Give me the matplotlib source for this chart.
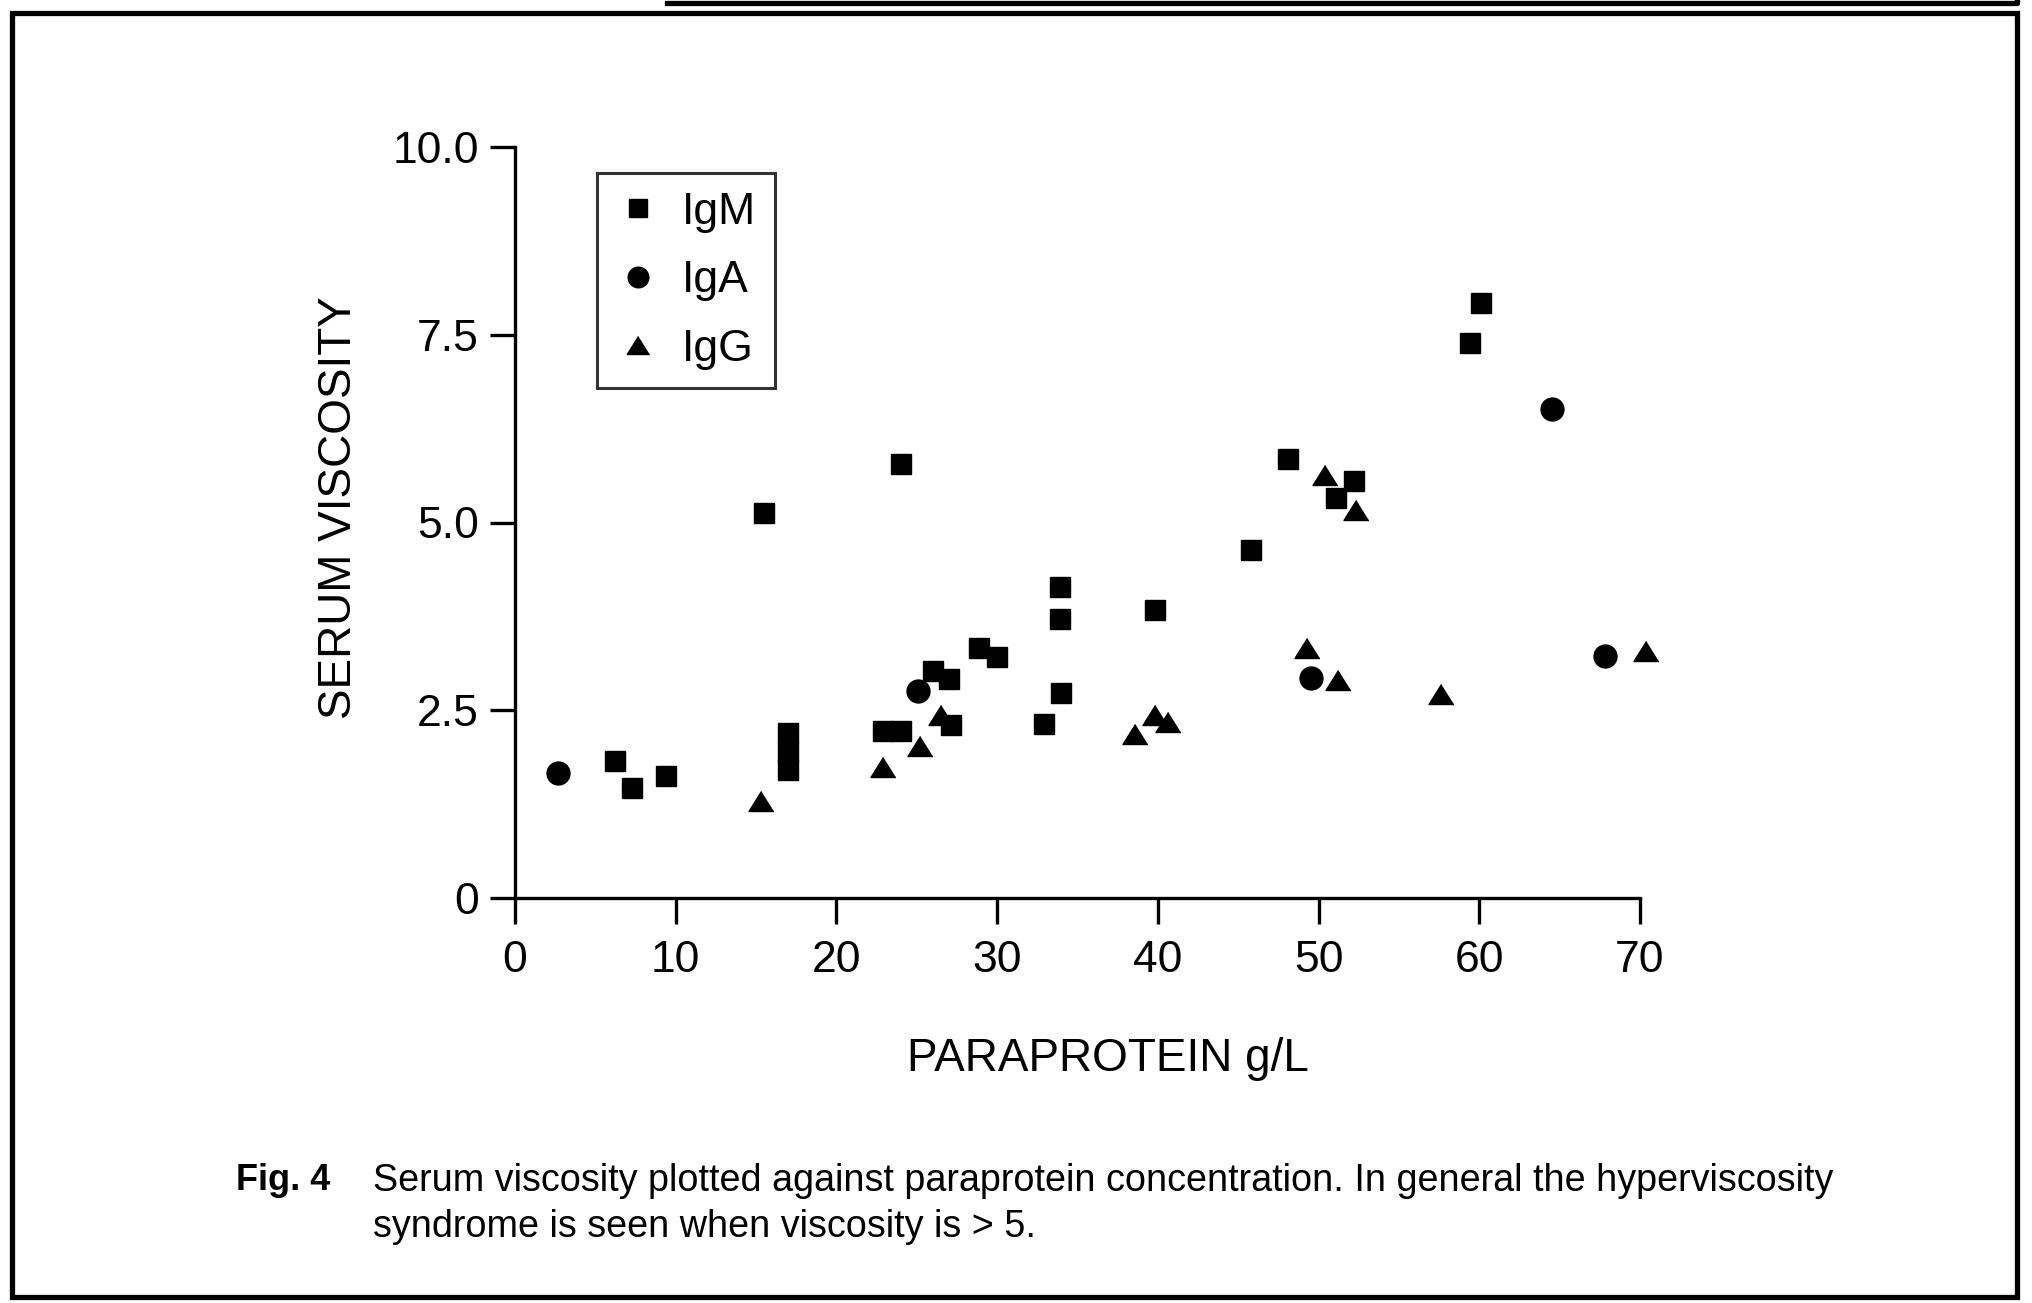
import matplotlib
matplotlib.use("Agg")
import matplotlib.pyplot as plt
from matplotlib.lines import Line2D
from matplotlib.patches import Rectangle

plt.rcParams['font.family'] = ['Liberation Sans', 'DejaVu Sans']

# values (paraprotein g/L, serum viscosity)
igm_x = [6.2, 7.3, 9.4, 15.5, 17.0, 17.0, 17.0, 24.0, 22.9, 24.0, 26.0, 27.0,
         27.1, 28.9, 30.0, 32.9, 33.9, 33.9, 34.0, 39.8, 45.8, 48.1, 52.2, 51.1,
         59.4, 60.1]
igm_y = [1.82, 1.47, 1.62, 5.13, 2.20, 1.94, 1.70, 5.78, 2.22, 2.23, 3.02, 2.92,
         2.30, 3.33, 3.21, 2.32, 4.14, 3.72, 2.73, 3.83, 4.63, 5.84, 5.55, 5.33,
         7.39, 7.92]

iga_x = [2.7, 25.1, 49.5, 64.5, 67.8]
iga_y = [1.66, 2.75, 2.93, 6.51, 3.22]

igg_x = [15.3, 22.9, 25.2, 26.5, 38.6, 39.8, 40.6, 50.4, 52.3, 49.3, 51.2, 57.6, 70.4]
igg_y = [1.29, 1.75, 2.02, 2.44, 2.19, 2.44, 2.34, 5.63, 5.17, 3.33, 2.90, 2.71, 3.29]

x_ticks = [0, 10, 20, 30, 40, 50, 60, 70]
y_ticks = [0, 2.5, 5.0, 7.5, 10.0]
y_tick_labels = ['0', '2.5', '5.0', '7.5', '10.0']

W, H = 2032, 1303
fig = plt.figure(figsize=(W / 100, H / 100), dpi=100)
ax = fig.add_axes([515 / W, 1 - 898 / H, (1640 - 515) / W, (898 - 147) / H])

tri = [(0, 0.8), (-1, -0.8), (1, -0.8)]
ax.plot(igm_x, igm_y, ls='none', marker='s', ms=15, color='black', label='IgM', clip_on=False)
ax.plot(iga_x, iga_y, ls='none', marker='o', ms=16.5, color='black', label='IgA', clip_on=False)
ax.plot(igg_x, igg_y, ls='none', marker=tri, ms=18, color='black', label='IgG', clip_on=False)

ax.set_xlim(0, 70)
ax.set_ylim(0, 10)
ax.set_xticks(x_ticks)
ax.set_yticks(y_ticks)
ax.set_yticklabels(y_tick_labels)
ax.spines['top'].set_visible(False)
ax.spines['right'].set_visible(False)
for s in ['left', 'bottom']:
    ax.spines[s].set_linewidth(2.4)
ax.tick_params(axis='both', labelsize=32, width=2.4, color='black')
ax.tick_params(axis='x', length=19, pad=11)
ax.tick_params(axis='y', length=18, pad=8)

leg = ax.legend(loc='upper left', bbox_to_anchor=(82 / 1125, 725 / 751), borderaxespad=0,
                fontsize=32, markerscale=0.9, frameon=True, fancybox=False,
                edgecolor='black', borderpad=0.42, handlelength=1.0,
                handletextpad=0.5, labelspacing=0.62)
leg.get_frame().set_linewidth(2.2)

fig.text(1108 / W, 1 - 1059 / H, 'PARAPROTEIN g/L', fontsize=33, ha='center', va='center')
fig.text(339 / W, 1 - 508 / H, 'SERUM VISCOSITY', fontsize=33, ha='center', va='center',
         rotation=90)

# caption
fig.text(236 / W, 1 - 1181 / H, 'Fig. 4', fontsize=26, fontweight='bold', va='center')
fig.text(373 / W, 1 - 1181 / H,
         'Serum viscosity plotted against paraprotein concentration. In general the hyperviscosity',
         fontsize=27.2, va='center')
fig.text(373 / W, 1 - 1227 / H, 'syndrome is seen when viscosity is > 5.', fontsize=27.2, va='center')

# page frame
fig.add_artist(Rectangle((12 / W, 1 - 1297 / H), (2017 - 12) / W, (1297 - 13) / H,
                         transform=fig.transFigure, fill=False, lw=3.8, ec='black'))
fig.add_artist(Line2D([667 / W, 2017 / W, 2017 / W], [1 - 3 / H, 1 - 3 / H, 1.0],
                      transform=fig.transFigure, lw=3.8, color='black'))

fig.savefig('out.png', dpi=100)
